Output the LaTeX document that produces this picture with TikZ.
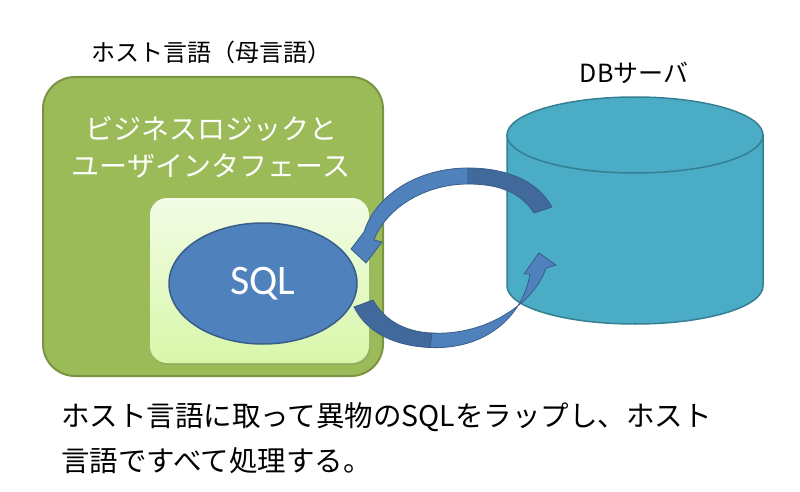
\documentclass[tikz,border=0pt]{standalone}
\usepackage{fontspec}
\setmainfont{Noto Sans CJK JP}
\newfontfamily\sqlfont{Carlito}
\usetikzlibrary{shapes.geometric,shadows}
\definecolor{hostgreen}{HTML}{9BBB59}
\definecolor{hostedge}{HTML}{7A9444}
\definecolor{wraptop}{HTML}{F2FCE6}
\definecolor{wrapbottom}{HTML}{D8F7A9}
\definecolor{sqlblue}{HTML}{4F81BD}
\definecolor{sqledge}{HTML}{385D8A}
\definecolor{tailblue}{HTML}{41699C}
\definecolor{dbteal}{HTML}{4BACC6}
\definecolor{dbedge}{HTML}{357F93}
\begin{document}
\begin{tikzpicture}[x=1pt,y=-1pt,
    hostbox/.style={draw=hostedge, fill=hostgreen, line width=2pt,
      rounded corners=32pt, minimum width=340pt, minimum height=299pt},
    wrapbox/.style={top color=wraptop, bottom color=wrapbottom,
      rounded corners=17pt, minimum width=219pt, minimum height=165pt,
      drop shadow={shadow xshift=1pt, shadow yshift=-2pt, opacity=0.25}},
    sqlnode/.style={ellipse, draw=sqledge, fill=sqlblue, line width=1.5pt,
      minimum width=188pt, minimum height=121pt, text=white,
      font=\sqlfont\fontsize{42}{42}\selectfont},
    plaintext/.style={inner sep=0pt},
    curvearrow/.style={draw=sqledge, line width=0.8pt, line join=round}]
  \useasboundingbox (0,0) rectangle (800,492);

  % host language side
  \node[plaintext, font=\fontsize{24}{24}\selectfont] (hostlabel) at (211,52) {ホスト言語（母言語）};
  \node[hostbox] (host) at (213,226.5) {};
  \node[plaintext, text=white, align=center, font=\fontsize{28}{37}\selectfont]
    (biz) at (211,147) {ビジネスロジックと\\ユーザインタフェース};
  \node[wrapbox] (wrap) at (259.5,280.5) {};
  \node[sqlnode] (sql) at (263,283.5) {SQL};

  % db server
  \node[plaintext, font=\fontsize{25}{25}\selectfont] (dblabel) at (634,73) {DBサーバ};
  \coordinate (db) at (635,135);
  \draw[fill=dbteal, draw=dbedge, line width=1.5pt]
    (507,135) -- (507,286) .. controls (507,307) and (564,324) .. (635,324)
    .. controls (706,324) and (763,307) .. (763,286) -- (763,135) -- cycle;
  \draw[fill=dbteal, draw=dbedge, line width=1.5pt]
    (db) ellipse [x radius=128, y radius=38];

  % query goes out
  \fill[tailblue, curvearrow]
    (354,307) .. controls (367,333) and (395,346) .. (430,347.5)
    -- (432,333) .. controls (405,332) and (384,320) .. (373,300) -- cycle;
  \fill[sqlblue, curvearrow]
    (430,347.5) .. controls (486,350) and (523,316) .. (530,274)
    -- (524,274) -- (539,253) -- (556,265) -- (546,268)
    .. controls (534,304) and (485,336) .. (432,333) -- cycle;

  % result comes back
  \fill[tailblue, curvearrow]
    (552,207) .. controls (537,180) and (505,168) .. (468,168)
    -- (468,184) .. controls (500,184) and (521,193) .. (534,213) -- cycle;
  \fill[sqlblue, curvearrow]
    (468,168) .. controls (419,168) and (376,194) .. (364,232)
    -- (351,249) -- (366,263) -- (382,242) -- (374,240)
    .. controls (386,208) and (425,184) .. (468,184) -- cycle;

  \node[plaintext, anchor=west, align=left, font=\fontsize{28.5}{45}\selectfont]
    (note) at (61,438) {ホスト言語に取って異物のSQLをラップし、ホスト\\言語ですべて処理する。};
\end{tikzpicture}
\end{document}
